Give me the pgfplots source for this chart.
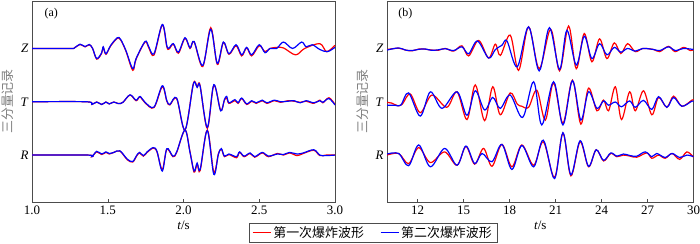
\documentclass[border=0pt]{standalone}
\usepackage{pgfplots}
\pgfplotsset{compat=1.18}
\usepackage{pgfplotstable}
\usepackage{fontspec}
\setmainfont{Liberation Serif}
\newfontfamily\cjk{Noto Sans CJK SC}
\newcommand\fs{\fontsize{13}{15}\selectfont}

% ---------- panel (a) ----------
\pgfplotstableread{
t v
1.00 0
1.25 0
1.28 0.01
1.317 0.075
1.35 0.03
1.378 0.07
1.40 0.0
1.427 -0.20
1.46 -0.09
1.47 0.02
1.488 -0.11
1.52 0.05
1.563 0.19
1.585 0.16
1.62 -0.05
1.665 -0.41
1.687 -0.20
1.746 0.12
1.768 0.03
1.805 -0.125
1.86 0.44
1.89 0.03
1.905 -0.01
1.933 0.08
1.966 -0.09
2.01 0.19
2.043 0.0
2.07 0.125
2.127 -0.34
2.18 0.39
2.223 -0.30
2.263 0.11
2.30 -0.11
2.347 0.05
2.384 -0.14
2.417 0.01
2.45 -0.14
2.50 0.05
2.538 -0.06
2.571 0.0
2.615 0.02
2.66 0.01
2.74 -0.12
2.80 0.0
2.90 0.09
2.945 -0.06
3.00 0.06
}\aZr
\pgfplotstableread{
t v
1.00 0
1.25 0
1.28 0.01
1.317 0.08
1.35 0.035
1.378 0.075
1.40 0.0
1.427 -0.19
1.46 -0.08
1.47 0.03
1.488 -0.10
1.52 0.06
1.563 0.20
1.585 0.17
1.62 -0.04
1.665 -0.38
1.687 -0.19
1.746 0.13
1.768 0.05
1.805 -0.10
1.86 0.45
1.89 0.05
1.905 0.01
1.933 0.09
1.966 -0.07
2.01 0.20
2.043 0.01
2.07 0.13
2.127 -0.32
2.18 0.36
2.223 -0.28
2.263 0.12
2.30 -0.10
2.347 0.07
2.384 -0.12
2.417 0.02
2.45 -0.12
2.50 0.07
2.538 -0.08
2.571 0.0
2.615 0.0
2.66 0.12
2.72 0.0
2.78 0.12
2.81 0.03
2.85 0.07
2.90 -0.02
2.95 -0.06
3.00 0.02
}\aZb
\pgfplotstableread{
t v
1.00 0
1.36 0
1.395 -0.05
1.427 -0.005
1.46 -0.05
1.488 -0.005
1.51 -0.04
1.54 -0.005
1.57 -0.035
1.60 -0.01
1.647 0.125
1.687 0.02
1.713 0.09
1.746 -0.02
1.805 -0.11
1.86 0.28
1.89 0.01
1.91 -0.06
1.955 0.06
2.01 -0.53
2.065 0.34
2.09 0.28
2.109 0.31
2.157 -0.50
2.20 0.31
2.245 -0.16
2.27 0.03
2.285 0.07
2.30 -0.03
2.34 0.02
2.36 -0.03
2.384 0.06
2.417 -0.05
2.45 0.01
2.48 -0.03
2.52 0.02
2.55 -0.03
2.60 0.02
2.64 -0.01
2.69 0.02
2.73 0.01
2.77 -0.01
2.81 0.01
2.86 -0.03
2.90 0.03
2.92 -0.02
2.96 0.075
3.00 -0.05
}\aTr
\pgfplotstableread{
t v
1.00 0
1.36 0
1.395 -0.05
1.427 -0.005
1.46 -0.05
1.488 -0.005
1.51 -0.04
1.54 -0.005
1.57 -0.035
1.60 -0.01
1.647 0.13
1.687 0.03
1.713 0.10
1.746 -0.01
1.805 -0.10
1.86 0.30
1.89 0.02
1.91 -0.05
1.955 0.07
2.01 -0.53
2.065 0.33
2.09 0.27
2.109 0.30
2.157 -0.48
2.20 0.32
2.245 -0.17
2.27 0.04
2.285 0.10
2.30 -0.02
2.34 0.04
2.36 -0.02
2.384 0.07
2.417 -0.04
2.45 0.02
2.48 -0.02
2.52 0.03
2.55 -0.02
2.60 0.03
2.64 0.0
2.69 0.01
2.73 0.02
2.77 -0.02
2.81 0.02
2.86 -0.02
2.90 0.02
2.92 -0.01
2.96 0.06
3.00 -0.06
}\aTb
\pgfplotstableread{
t v
1.00 0
1.37 0
1.395 -0.03
1.427 0.06
1.46 0.01
1.488 0.05
1.51 0.02
1.54 0.05
1.58 0.075
1.63 -0.09
1.665 -0.13
1.69 -0.02
1.71 0.04
1.735 -0.02
1.76 0.05
1.80 0.13
1.825 0.06
1.86 -0.27
1.89 0.11
1.93 -0.03
1.955 0.05
2.01 0.47
2.043 0.06
2.07 -0.32
2.09 -0.17
2.11 -0.29
2.157 0.47
2.20 -0.32
2.23 0.02
2.25 0.11
2.27 -0.03
2.30 0.01
2.35 -0.05
2.37 0.05
2.40 -0.03
2.44 0.03
2.47 -0.04
2.52 0.04
2.56 -0.03
2.62 0.03
2.66 0.0
2.70 0.04
2.75 -0.01
2.79 0.03
2.86 0.09
2.90 -0.01
2.94 0.0
3.00 0.0
}\aRr
\pgfplotstableread{
t v
1.00 0
1.37 0
1.395 -0.03
1.427 0.07
1.46 0.02
1.488 0.06
1.51 0.03
1.54 0.05
1.58 0.08
1.63 -0.08
1.665 -0.12
1.69 -0.01
1.71 0.05
1.735 -0.01
1.76 0.06
1.80 0.14
1.825 0.07
1.86 -0.30
1.89 0.12
1.93 -0.02
1.955 0.06
2.01 0.47
2.043 0.05
2.07 -0.30
2.09 -0.15
2.11 -0.27
2.157 0.46
2.20 -0.36
2.23 0.01
2.25 0.12
2.27 -0.02
2.30 0.02
2.35 -0.03
2.37 0.06
2.40 -0.02
2.44 0.04
2.47 -0.03
2.52 0.05
2.56 -0.02
2.62 0.02
2.66 0.01
2.70 0.05
2.75 0.02
2.79 0.04
2.86 0.10
2.90 0.0
2.94 -0.01
3.00 0.0
}\aRb

% ---------- panel (b) ----------
\pgfplotstableread{
t v
10.0 0
10.76 0.025
11.2 -0.01
11.63 -0.025
12.1 0.01
12.5 0.006
12.9 -0.01
13.37 -0.012
13.8 0.02
14.35 -0.03
14.89 0.07
15.33 -0.12
15.98 0.17
16.63 -0.16
17.07 0.10
17.4 -0.11
18.04 0.27
18.59 -0.39
19.24 0.425
19.93 -0.36
20.68 0.38
21.26 -0.40
21.85 0.44
22.35 -0.36
22.87 0.30
23.37 -0.23
23.87 0.20
24.35 -0.17
24.83 0.125
25.26 -0.075
25.7 0.11
26.2 -0.04
26.7 0.02
27.4 0.0
27.8 -0.04
28.37 0.06
28.8 -0.04
29.35 0.04
29.8 -0.02
30.0 0.0
}\bZr
\pgfplotstableread{
t v
10.0 -0.01
10.76 0.03
11.2 -0.01
11.63 -0.02
12.1 0.005
12.5 0.01
12.9 -0.015
13.37 -0.005
13.8 0.015
14.35 -0.02
14.89 0.05
15.33 -0.08
15.9 0.16
16.63 -0.16
17.07 0.0
17.5 0.08
17.83 0.16
18.5 -0.325
19.24 0.425
19.93 -0.40
20.6 0.41
21.26 -0.375
21.74 0.36
22.35 -0.29
22.87 0.25
23.37 -0.17
23.87 0.11
24.35 -0.10
24.83 0.04
25.26 -0.05
25.7 0.02
26.2 -0.03
26.7 0.02
27.4 0.0
27.8 -0.02
28.37 0.05
28.8 -0.02
29.35 0.02
30.0 0.0
}\bZb
\pgfplotstableread{
t v
10.0 0.03
10.3 0.02
10.7 -0.03
11.0 0.0
11.52 0.19
12.17 -0.16
12.93 0.17
13.9 -0.06
14.57 0.23
15.22 -0.29
15.76 0.36
16.37 -0.31
16.9 0.325
17.39 -0.20
18.04 0.21
18.5 0.0
18.8 -0.04
19.24 -0.06
19.78 0.26
20.33 -0.30
20.87 0.40
21.48 -0.36
22.1 0.45
22.65 -0.375
23.15 0.30
23.7 -0.125
24.13 0.075
24.46 -0.125
24.9 0.325
25.3 -0.29
25.83 0.23
26.2 -0.125
26.74 0.25
27.28 -0.20
27.72 0.125
28.26 -0.06
28.7 0.15
29.24 -0.04
29.9 0.075
30.0 0.075
}\bTr
\pgfplotstableread{
t v
10.0 -0.02
10.5 -0.02
10.9 -0.02
11.41 0.21
12.17 -0.225
12.83 0.23
13.59 -0.08
14.57 0.23
15.22 -0.21
15.76 0.25
16.37 -0.11
16.9 0.125
17.39 -0.08
18.04 0.17
18.85 -0.25
19.57 0.42
20.1 -0.39
20.87 0.42
21.48 -0.39
22.1 0.44
22.65 -0.30
23.15 0.23
23.7 -0.08
24.13 0.06
24.46 -0.02
24.9 0.04
25.3 -0.05
25.83 0.06
26.2 -0.06
26.74 0.07
27.28 -0.10
27.72 0.14
28.26 -0.06
28.7 0.125
29.24 -0.04
29.9 0.056
30.0 0.045
}\bTb
\pgfplotstableread{
t v
10.0 0.0
10.76 0.03
11.41 -0.16
12.07 0.14
12.83 -0.14
13.76 0.06
14.57 -0.19
15.15 0.16
15.72 -0.17
16.3 0.125
16.85 -0.21
17.5 0.20
18.15 -0.22
18.8 0.19
19.57 -0.19
20.2 0.25
20.93 -0.42
21.48 0.41
22.0 -0.39
22.6 0.25
23.15 -0.22
23.65 0.10
24.13 -0.11
24.6 0.03
25.0 -0.03
25.43 0.0
25.87 -0.02
26.3 -0.04
26.96 0.04
27.28 -0.06
27.72 0.0
28.15 -0.06
28.6 0.03
29.1 -0.08
29.57 0.06
30.0 -0.04
}\bRr
\pgfplotstableread{
t v
10.0 0.02
10.76 0.03
11.41 -0.20
12.07 0.19
12.83 -0.22
13.76 0.125
14.57 -0.19
15.15 0.17
15.72 -0.16
16.2 0.03
16.85 -0.125
17.5 0.20
18.15 -0.27
18.8 0.18
19.57 -0.22
20.2 0.28
20.93 -0.44
21.48 0.42
22.0 -0.37
22.6 0.27
23.15 -0.21
23.65 0.10
24.13 -0.10
24.6 0.04
25.0 -0.02
25.43 0.02
25.87 -0.01
26.3 -0.02
26.85 0.06
27.28 -0.03
27.6 0.03
28.15 -0.045
28.6 0.03
29.1 -0.045
29.57 0.0
30.0 -0.03
}\bRb

\pgfplotsset{
  seis/.style={
    scale only axis, anchor=south west, height=201bp,
    ymin=-0.88, ymax=2.89,
    ytick={0,1,2}, yticklabels={\textit{R},\textit{T},\textit{Z}},
    ytick style={draw=none},
    xtick pos=bottom, tick align=inside, major tick length=3bp,
    xtick style={black!70, line width=0.5bp},
    axis line style={black!70, line width=0.6bp},
    tick label style={font=\fs},
    /pgf/number format/assume math mode=true,
    label style={font=\fs},
    xlabel={\textit{t}/s},
    xlabel style={at={(axis description cs:0.5,-0.115)}, anchor=center},
    ylabel={\cjk 三分量记录},
    ylabel style={text=black!50, anchor=center},
    every axis plot/.append style={smooth, tension=0.55, line width=1.2bp},
  },
}

\begin{document}
\begin{tikzpicture}
\useasboundingbox (0bp,0bp) rectangle (700bp,244bp);
\begin{axis}[seis, at={(32bp,42bp)}, width=303bp,
  xmin=1, xmax=3, xtick={1,1.5,2,2.5,3},
  xticklabel style={/pgf/number format/.cd, fixed, fixed zerofill, precision=1},
  ylabel style={at={(axis description cs:-0.079,0.5)}},
]
\addplot[red, forget plot] table[x=t, y expr=\thisrow{v}+2] {\aZr};
\addplot[blue, forget plot] table[x=t, y expr=\thisrow{v}+2] {\aZb};
\addplot[red, forget plot] table[x=t, y expr=\thisrow{v}+1] {\aTr};
\addplot[blue, forget plot] table[x=t, y expr=\thisrow{v}+1] {\aTb};
\addplot[red, forget plot] table[x=t, y expr=\thisrow{v}] {\aRr};
\addplot[blue, forget plot] table[x=t, y expr=\thisrow{v}] {\aRb};
\node[anchor=west, font=\fontsize{12}{14}\selectfont] at (rel axis cs:0.03,0.935) {(a)};
\end{axis}
\begin{axis}[seis, at={(387bp,42bp)}, width=306.5bp,
  xmin=10, xmax=30, xtick={12,15,18,21,24,27,30},
  ylabel style={at={(axis description cs:-0.078,0.5)}},
  legend columns=2,
  legend style={at={(-0.0457,-0.153)}, anchor=center, draw=black!70, line width=0.5bp,
    font=\cjk\fs, inner xsep=3bp, inner ysep=1bp,
    /tikz/every even column/.append style={column sep=14bp}},
  legend image code/.code={\draw[#1, line width=1.2bp] (0bp,0bp) -- (18bp,0bp);},
]
\addplot[red] table[x=t, y expr=\thisrow{v}+1.98] {\bZr};
\addplot[blue] table[x=t, y expr=\thisrow{v}+1.98] {\bZb};
\addplot[red] table[x=t, y expr=\thisrow{v}+0.956] {\bTr};
\addplot[blue] table[x=t, y expr=\thisrow{v}+0.956] {\bTb};
\addplot[red] table[x=t, y expr=\thisrow{v}] {\bRr};
\addplot[blue] table[x=t, y expr=\thisrow{v}] {\bRb};
\legend{第一次爆炸波形, 第二次爆炸波形}
\node[anchor=west, font=\fontsize{12}{14}\selectfont] at (rel axis cs:0.026,0.935) {(b)};
\end{axis}
\end{tikzpicture}
\end{document}
